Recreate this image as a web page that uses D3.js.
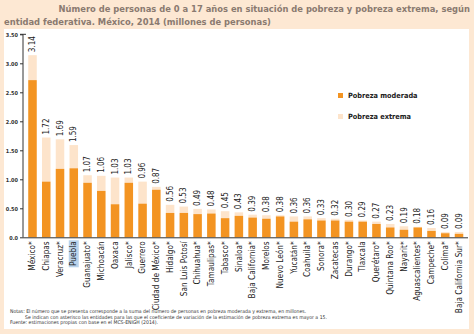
<!DOCTYPE html>
<html><head><meta charset="utf-8">
<script src="https://cdn.jsdelivr.net/npm/d3@7"></script>
<style>
html,body{margin:0;padding:0;background:#fde8d3;}
svg{display:block;}
text{font-family:"Liberation Sans Narrow","DejaVu Sans Condensed","Liberation Sans",sans-serif;}
</style></head>
<body>
<script>
const categories = ["México*","Chiapas","Veracruz*","Puebla","Guanajuato*","Michoacán","Oaxaca","Jalisco*","Guerrero","Ciudad de México*","Hidalgo*","San Luis Potosí","Chihuahua*","Tamaulipas*","Tabasco*","Sinaloa*","Baja California*","Morelos","Nuevo León*","Yucatán*","Coahuila*","Sonora*","Zacatecas","Durango*","Tlaxcala","Querétaro*","Quintana Roo*","Nayarit*","Aguascalientes*","Campeche*","Colima*","Baja California Sur*"];
const totals = [3.14,1.72,1.69,1.59,1.07,1.06,1.03,1.03,0.96,0.87,0.56,0.53,0.49,0.48,0.45,0.43,0.39,0.38,0.38,0.36,0.36,0.33,0.32,0.30,0.29,0.27,0.23,0.19,0.18,0.16,0.09,0.09];
const moderate = [2.71,0.96,1.18,1.19,0.94,0.80,0.57,0.94,0.58,0.82,0.42,0.42,0.40,0.41,0.33,0.37,0.34,0.32,0.36,0.27,0.31,0.29,0.29,0.27,0.27,0.23,0.17,0.13,0.17,0.11,0.07,0.06];
const yTicks = [0,0.5,1,1.5,2,2.5,3,3.5];
const yTickLabels = ["0.0","0.50","1.00","1.50","2.00","2.50","3.00","3.50"];
const seriesNames = ["Pobreza moderada","Pobreza extrema"];
const colors = ["#f39422","#fde4cb"];
const titleLines = ["Número de personas de 0 a 17 años en situación de pobreza y pobreza extrema, según","entidad federativa. México, 2014 (millones de personas)"];
const notes = ["Notas:  El número que se presenta corresponde a la suma del número de personas en pobreza moderada y extrema, en millones.","Se indican con asterisco las entidades para las que el coeficiente de variación de la estimación de pobreza extrema es mayor a 15.","Fuente: estimaciones propias con base en el MCS-ENIGH (2014)."];

const W=474,H=334;
const svg=d3.select("body").append("svg").attr("width",W).attr("height",H);
svg.append("rect").attr("width",W).attr("height",H).attr("fill","#fde8d3");
svg.append("rect").attr("x",4).attr("y",29).attr("width",465).attr("height",300).attr("fill","#ffffff");

// title
svg.append("text").attr("x",470).attr("y",12).attr("text-anchor","end")
  .attr("font-family","Liberation Sans, Arial, sans-serif").attr("font-weight","bold").attr("font-size",9.3)
  .attr("fill","#8a7a70").text(titleLines[0]);
svg.append("text").attr("x",4).attr("y",25)
  .attr("font-family","Liberation Sans, Arial, sans-serif").attr("font-weight","bold").attr("font-size",9.3)
  .attr("fill","#8a7a70").text(titleLines[1]);

const x=d3.scaleBand().domain(categories).range([23,468.5]).padding(0.38);
const y=d3.scaleLinear().domain([0,3.5]).range([237.3,34.3]);

const data=categories.map((c,i)=>({c,mod:moderate[i],tot:totals[i]}));

// bars: extreme (stacked on top)
svg.selectAll(".ext").data(data).enter().append("rect")
  .attr("x",d=>x(d.c)).attr("width",x.bandwidth())
  .attr("y",d=>y(d.tot)).attr("height",d=>y(d.mod)-y(d.tot)).attr("fill",colors[1]);
svg.selectAll(".mod").data(data).enter().append("rect")
  .attr("x",d=>x(d.c)).attr("width",x.bandwidth())
  .attr("y",d=>y(d.mod)).attr("height",d=>y(0)-y(d.mod)).attr("fill",colors[0]);

// value labels
svg.selectAll(".val").data(data).enter().append("text")
  .attr("transform",d=>`translate(${x(d.c)+x.bandwidth()/2+2.6},${y(d.tot)-3}) rotate(-90)`)
  .attr("font-size",8).attr("fill","#222").text(d=>d.tot.toFixed(2));

// y axis
const yAxis=svg.append("g").attr("transform","translate(23,0)")
  .call(d3.axisLeft(y).tickValues(yTicks).tickFormat((d,i)=>yTickLabels[i]).tickSize(3).tickPadding(2));
yAxis.select(".domain").attr("stroke","#333").attr("d","M-3,34.3H3M0,34.3V237.3");
yAxis.selectAll("line").attr("stroke","#333");
yAxis.selectAll("text").attr("font-size",5.5).attr("font-weight","bold").attr("fill","#333")
  .attr("font-family","Liberation Sans Narrow, DejaVu Sans Condensed, sans-serif");

// x axis
const xAxis=svg.append("g").attr("transform",`translate(0,${y(0)})`)
  .call(d3.axisBottom(x).tickSize(0).tickPadding(0));
xAxis.select(".domain").attr("stroke","#333").attr("d","M23,0.5H468");
// highlight for Puebla
const pb="Puebla";
svg.append("rect").attr("x",x(pb)+x.bandwidth()/2-5).attr("y",y(0)+3).attr("width",10).attr("height",27).attr("fill","#b9d3ec");
xAxis.raise();
xAxis.selectAll("text").attr("font-size",8.2).attr("fill","#222")
  .attr("text-anchor","end").attr("transform","rotate(-90)")
  .attr("x",-4).attr("y",0).attr("dy","0.33em");

// legend
seriesNames.forEach((s,i)=>{
  const ly=93+i*21;
  svg.append("rect").attr("x",338).attr("y",ly).attr("width",5).attr("height",5).attr("fill",colors[i]);
  svg.append("text").attr("x",348).attr("y",ly+5).attr("font-size",7.3).attr("font-weight","bold").attr("fill","#222").text(s);
});

// notes
svg.append("text").attr("x",10).attr("y",313).attr("font-size",5.1).attr("fill","#333").text(notes[0]);
svg.append("text").attr("x",25).attr("y",318.5).attr("font-size",5.1).attr("fill","#333").text(notes[1]);
svg.append("text").attr("x",10).attr("y",324).attr("font-size",5.1).attr("fill","#333").text(notes[2]);
</script>
</body></html>
